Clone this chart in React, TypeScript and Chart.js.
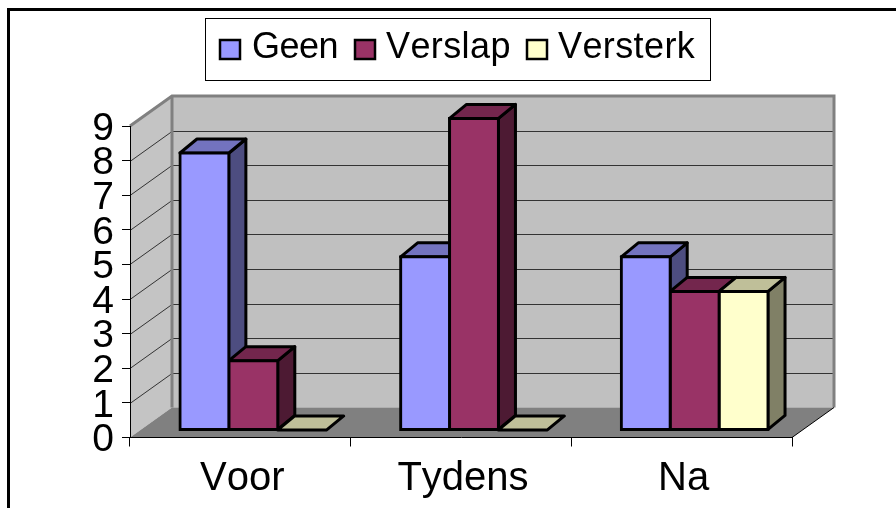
import React, { useEffect, useRef } from "react";
import { Chart, registerables } from "chart.js";

Chart.register(...registerables);

const categories = ["Voor", "Tydens", "Na"];
const seriesNames = ["Geen", "Verslap", "Versterk"];
const geen = [8, 5, 5];
const verslap = [2, 9, 4];
const versterk = [0, 0, 4];
const frontColors = ["#9999FF", "#993366", "#FFFFCC"];
const topColors = ["#7373BF", "#73264D", "#BFBF99"];
const sideColors = ["#4D4D80", "#4D1A33", "#808066"];

const FONT = '"Liberation Sans", Arial, sans-serif';
const WALL_DX = 42;
const WALL_DY = -30;
const BAR_SHIFT_X = 13;
const BAR_SHIFT_Y = -7.6;
const BAR_DX = 17;
const BAR_DY = -14;
const EDGE = 3;

const poly = (ctx: CanvasRenderingContext2D, pts: number[][]) => {
  ctx.beginPath();
  pts.forEach((p, i) => (i ? ctx.lineTo(p[0], p[1]) : ctx.moveTo(p[0], p[1])));
  ctx.closePath();
};

const nudgeLabels = (scale: any, dx: number, dy: number) => {
  const original = scale.drawLabels;
  scale.drawLabels = function (area: any) {
    const c = this.ctx;
    c.save();
    c.translate(dx, dy);
    original.call(this, area);
    c.restore();
  };
};

const scene = {
  id: "scene",
  beforeDraw(chart: any) {
    const { ctx, chartArea: a, scales } = chart;
    const y = scales.y;
    const { left: l, right: r, top: t, bottom: b } = a;
    ctx.fontKerning = "none";
    ctx.save();
    ctx.fillStyle = "#FFFFFF";
    ctx.fillRect(0, 0, chart.width, chart.height);

    // outer frame
    ctx.strokeStyle = "#000000";
    ctx.lineWidth = 3;
    ctx.beginPath();
    ctx.moveTo(8.5, 508);
    ctx.lineTo(8.5, 9.5);
    ctx.lineTo(896, 9.5);
    ctx.stroke();

    // back wall
    ctx.fillStyle = "#C0C0C0";
    ctx.fillRect(l + WALL_DX, t + WALL_DY, r - l, b - t);
    // side wall
    ctx.fillStyle = "#C4C4C4";
    poly(ctx, [[l, t], [l + WALL_DX, t + WALL_DY], [l + WALL_DX, b + WALL_DY], [l, b]]);
    ctx.fill();
    // floor
    ctx.fillStyle = "#808080";
    poly(ctx, [[l, b], [l + WALL_DX, b + WALL_DY], [r + WALL_DX, b + WALL_DY], [r, b]]);
    ctx.fill();

    // gridlines
    ctx.strokeStyle = "#333333";
    ctx.lineWidth = 1;
    for (let v = y.min + 1; v < y.max; v++) {
      const py = Math.round(y.getPixelForValue(v)) + 0.5;
      ctx.beginPath();
      ctx.moveTo(l, py);
      ctx.lineTo(l + WALL_DX, py + WALL_DY);
      ctx.lineTo(r + WALL_DX, py + WALL_DY);
      ctx.stroke();
    }

    // wall edges
    ctx.strokeStyle = "#808080";
    ctx.lineWidth = 3;
    ctx.beginPath();
    ctx.moveTo(l, t);
    ctx.lineTo(l + WALL_DX, t + WALL_DY);
    ctx.lineTo(r + WALL_DX, t + WALL_DY);
    ctx.lineTo(r + WALL_DX, b + WALL_DY);
    ctx.moveTo(l + WALL_DX, t + WALL_DY);
    ctx.lineTo(l + WALL_DX, b + WALL_DY);
    ctx.stroke();

    ctx.strokeStyle = "#000000";
    ctx.lineWidth = 1;
    ctx.beginPath();
    ctx.moveTo(r, b);
    ctx.lineTo(r + WALL_DX, b + WALL_DY);
    ctx.stroke();

    // legend
    ctx.fillStyle = "#FFFFFF";
    ctx.fillRect(205.5, 18.5, 505, 62);
    ctx.strokeStyle = "#000000";
    ctx.lineWidth = 1;
    ctx.strokeRect(205.5, 18.5, 505, 62);
    const swatchX = [220, 355, 527];
    const textX = [252, 386, 558];
    const tracking = ["-0.5px", "0.4px", "0.4px"];
    ctx.font = `36px ${FONT}`;
    ctx.textBaseline = "alphabetic";
    ctx.textAlign = "left";
    chart.data.datasets.forEach((ds: any, i: number) => {
      ctx.fillStyle = ds.backgroundColor;
      ctx.fillRect(swatchX[i], 40, 20, 19);
      ctx.strokeStyle = "#000000";
      ctx.lineWidth = 2.5;
      ctx.strokeRect(swatchX[i], 40, 20, 19);
      ctx.fillStyle = "#000000";
      ctx.letterSpacing = tracking[i];
      ctx.fillText(ds.label, textX[i], 58);
    });
    ctx.letterSpacing = "0px";
    ctx.restore();
  },
  beforeDatasetsDraw(chart: any) {
    const { ctx } = chart;
    ctx.save();
    ctx.translate(BAR_SHIFT_X, BAR_SHIFT_Y);
    ctx.lineWidth = EDGE;
    ctx.lineJoin = "round";
    ctx.strokeStyle = "#000000";
    chart.data.labels.forEach((_: string, c: number) => {
      chart.data.datasets.forEach((_ds: any, d: number) => {
        const bar = chart.getDatasetMeta(d).data[c];
        const x0 = bar.x - bar.width / 2;
        const x1 = bar.x + bar.width / 2;
        const top = bar.y;
        const base = bar.base;
        if (base - top > 0.5) {
          ctx.fillStyle = sideColors[d];
          poly(ctx, [[x1, top], [x1 + BAR_DX, top + BAR_DY], [x1 + BAR_DX, base + BAR_DY], [x1, base]]);
          ctx.fill();
          ctx.stroke();
        }
        ctx.fillStyle = topColors[d];
        poly(ctx, [[x0, top], [x0 + BAR_DX, top + BAR_DY], [x1 + BAR_DX, top + BAR_DY], [x1, top]]);
        ctx.fill();
        ctx.stroke();
      });
    });
    ctx.restore();
  },
  beforeDatasetDraw(chart: any) {
    chart.ctx.save();
    chart.ctx.translate(BAR_SHIFT_X, BAR_SHIFT_Y);
  },
  afterDatasetDraw(chart: any) {
    chart.ctx.restore();
  },
};

export default function App() {
  const ref = useRef<HTMLCanvasElement>(null);
  useEffect(() => {
    const seriesValues = [geen, verslap, versterk];
    const chart = new Chart(ref.current as HTMLCanvasElement, {
      type: "bar",
      plugins: [scene],
      data: {
        labels: categories,
        datasets: seriesNames.map((label, i) => ({
          label,
          data: seriesValues[i],
          backgroundColor: frontColors[i],
          borderColor: "#000000",
          borderWidth: EDGE,
          borderSkipped: false,
          inflateAmount: EDGE / 2,
          clip: false,
          categoryPercentage: 0.665,
          barPercentage: 1,
        })),
      },
      options: {
        responsive: false,
        animation: false,
        layout: { padding: { left: 0, top: 126, right: 104, bottom: 0 } },
        plugins: { legend: { display: false }, title: { display: false }, tooltip: { enabled: false } },
        scales: {
          x: {
            afterFit: (s: any) => { s.height = 70.5; },
            grid: { offset: true, drawOnChartArea: false, drawTicks: true, tickLength: 9, color: "#000000", lineWidth: 1 },
            border: { display: true, color: "#000000", width: 1 },
            ticks: { color: "#000000", font: { family: FONT, size: 40 }, padding: 8, maxRotation: 0, autoSkip: false },
          },
          y: {
            min: 0,
            max: 9,
            afterFit: (s: any) => { s.width = 130; },
            grid: { drawOnChartArea: false, drawTicks: true, tickLength: 8, color: "#000000", lineWidth: 1 },
            border: { display: true, color: "#000000", width: 1 },
            ticks: { stepSize: 1, autoSkip: false, color: "#000000", font: { family: FONT, size: 39 }, padding: 8 },
          },
        },
      },
    } as any);
    nudgeLabels(chart.scales.x, 2, 0);
    nudgeLabels(chart.scales.y, 0, 3);
    chart.draw();
    return () => chart.destroy();
  }, []);
  return (
    <div style={{ position: "absolute", left: 0, top: 0, width: 896, height: 508 }}>
      <canvas ref={ref} width={896} height={508} style={{ display: "block", width: 896, height: 508 }} />
    </div>
  );
}
